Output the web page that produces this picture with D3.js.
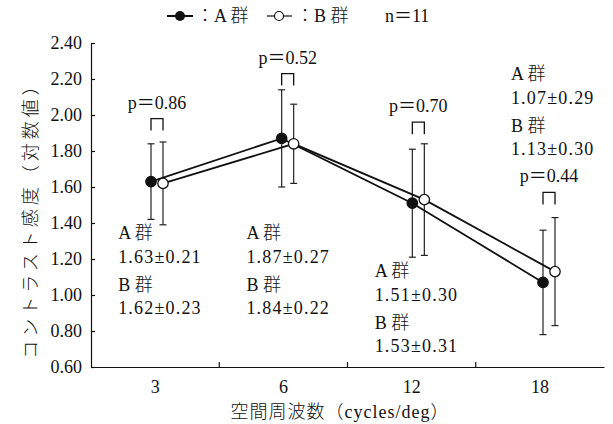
<!DOCTYPE html>
<html>
<head>
<meta charset="utf-8">
<script src="https://cdn.jsdelivr.net/npm/d3@7"></script>
<style>
body{margin:0;background:#fff;}
svg text{font-family:"Liberation Serif","Noto Sans CJK JP",serif;fill:#111;}
svg text.jp{font-weight:300;}
</style>
</head>
<body>
<svg id="chart" width="613" height="424"></svg>
<script>
var cats=["3","6","12","18"];
var meanA=[1.63,1.87,1.51,1.07];
var sdA=[0.21,0.27,0.30,0.29];
var meanB=[1.62,1.84,1.53,1.13];
var sdB=[0.23,0.22,0.31,0.30];
var pvals=["0.86","0.52","0.70","0.44"];
var yTicks=[0.6,0.8,1.0,1.2,1.4,1.6,1.8,2.0,2.2,2.4];

// layout only (where the bracket and the text blocks sit)
var bracketAt=[1.98,2.23,1.96,1.57];
var noteTop=[239,239,277,80];
var noteDy=[0,24,52,75];

var svg=d3.select("#chart");
var axisX=91, axisY=367;

var x=d3.scaleBand().domain(cats).range([axisX,604]);
var xp=d3.scalePoint().domain(cats).range([153,545]);
var y=d3.scaleLinear().domain([0.6,2.4]).range([axisY,43]);
var offA=-2, offB=10;

// y axis
var yAxis=svg.append("g").attr("transform","translate("+axisX+",0)")
  .call(d3.axisLeft(y).tickValues(yTicks).tickFormat(d3.format(".2f")).tickSize(-4).tickSizeOuter(0).tickPadding(9));
yAxis.selectAll("text").style("font-size","18px");
yAxis.selectAll("line,path").attr("stroke","#111").attr("stroke-width",1.2);

// x axis: labels in band centres, tick marks on band edges
var xAxis=svg.append("g").attr("transform","translate(0,"+axisY+")")
  .call(d3.axisBottom(x).tickSize(0).tickSizeOuter(0).tickPadding(9));
xAxis.selectAll("text").style("font-size","18px").attr("dy","0.95em");
xAxis.select("path").attr("stroke","#111").attr("stroke-width",1.2);
svg.append("g").selectAll("line").data(cats.slice(1)).enter().append("line")
  .attr("x1",function(d){return x(d);}).attr("x2",function(d){return x(d);})
  .attr("y1",axisY).attr("y2",axisY-5)
  .attr("stroke","#111").attr("stroke-width",1.2);

// axis titles
svg.append("text").attr("class","jp").attr("x",340).attr("y",418).attr("text-anchor","middle")
  .style("font-size","18px").style("letter-spacing","1px").text("空間周波数（cycles/deg）");
svg.append("text").attr("class","jp").attr("transform","translate(37,216) rotate(-90)").attr("text-anchor","middle")
  .style("font-size","18px").style("letter-spacing","4px").text("コントラスト感度（対数値）");

// legend
var lg=svg.append("g");
lg.append("line").attr("x1",167).attr("x2",193).attr("y1",16).attr("y2",16).attr("stroke","#111").attr("stroke-width",2);
lg.append("circle").attr("cx",180).attr("cy",16).attr("r",5).attr("fill","#111");
lg.append("text").attr("class","jp").attr("x",196).attr("y",22).style("font-size","18px").text("：A 群");
lg.append("line").attr("x1",267).attr("x2",292).attr("y1",16).attr("y2",16).attr("stroke","#111").attr("stroke-width",1.2);
lg.append("circle").attr("cx",279).attr("cy",16).attr("r",4.5).attr("fill","#fff").attr("stroke","#111").attr("stroke-width",1.2);
lg.append("text").attr("class","jp").attr("x",296).attr("y",22).style("font-size","18px").text("：B 群");
lg.append("text").attr("x",385).attr("y",22).style("font-size","18px").text("n＝11");

var groups=[
  {mean:meanA,sd:sdA,off:offA,fill:"#111"},
  {mean:meanB,sd:sdB,off:offB,fill:"#fff"}
];

// error bars
groups.forEach(function(g){
  var eb=svg.append("g").selectAll("g").data(cats).enter().append("g");
  eb.append("line")
    .attr("x1",function(d){return xp(d)+g.off;}).attr("x2",function(d){return xp(d)+g.off;})
    .attr("y1",function(d,i){return y(g.mean[i]+g.sd[i]);})
    .attr("y2",function(d,i){return y(g.mean[i]-g.sd[i]);});
  eb.append("line")
    .attr("x1",function(d){return xp(d)+g.off-3.5;}).attr("x2",function(d){return xp(d)+g.off+3.5;})
    .attr("y1",function(d,i){return y(g.mean[i]+g.sd[i]);})
    .attr("y2",function(d,i){return y(g.mean[i]+g.sd[i]);});
  eb.append("line")
    .attr("x1",function(d){return xp(d)+g.off-3.5;}).attr("x2",function(d){return xp(d)+g.off+3.5;})
    .attr("y1",function(d,i){return y(g.mean[i]-g.sd[i]);})
    .attr("y2",function(d,i){return y(g.mean[i]-g.sd[i]);});
  eb.selectAll("line").attr("stroke","#222").attr("stroke-width",1.2);
});

// connecting lines
groups.forEach(function(g){
  var line=d3.line()
    .x(function(d){return xp(d)+g.off;})
    .y(function(d,i){return y(g.mean[i]);});
  svg.append("path").datum(cats).attr("d",line)
    .attr("fill","none").attr("stroke","#111").attr("stroke-width",1.8);
});

// markers
groups.forEach(function(g){
  svg.append("g").selectAll("circle").data(cats).enter().append("circle")
    .attr("cx",function(d){return xp(d)+g.off;})
    .attr("cy",function(d,i){return y(g.mean[i]);})
    .attr("r",5.2)
    .attr("fill",g.fill).attr("stroke","#111").attr("stroke-width",1.3);
});

// p-value brackets
cats.forEach(function(c,i){
  var yb=y(bracketAt[i]);
  var x1=xp(c)+offA, x2=xp(c)+offB;
  svg.append("path")
    .attr("d","M"+x1+","+(yb+12)+"V"+yb+"H"+x2+"V"+(yb+12))
    .attr("fill","none").attr("stroke","#111").attr("stroke-width",1.3);
  svg.append("text").attr("x",(x1+x2)/2).attr("y",yb-10).attr("text-anchor","middle")
    .style("font-size","18px").text("p＝"+pvals[i]);
});

// mean ± sd notes
cats.forEach(function(c,i){
  var tx=x(c)+x.bandwidth()/2-37+(i==3?8:0);
  var lines=["A 群",meanA[i].toFixed(2)+"±"+sdA[i].toFixed(2),"B 群",meanB[i].toFixed(2)+"±"+sdB[i].toFixed(2)];
  lines.forEach(function(t,k){
    svg.append("text").attr("class",k%2?null:"jp").attr("x",tx).attr("y",noteTop[i]+noteDy[k])
      .style("font-size","18px").style("letter-spacing",k%2?"1.2px":"0px").text(t);
  });
});
</script>
</body>
</html>
